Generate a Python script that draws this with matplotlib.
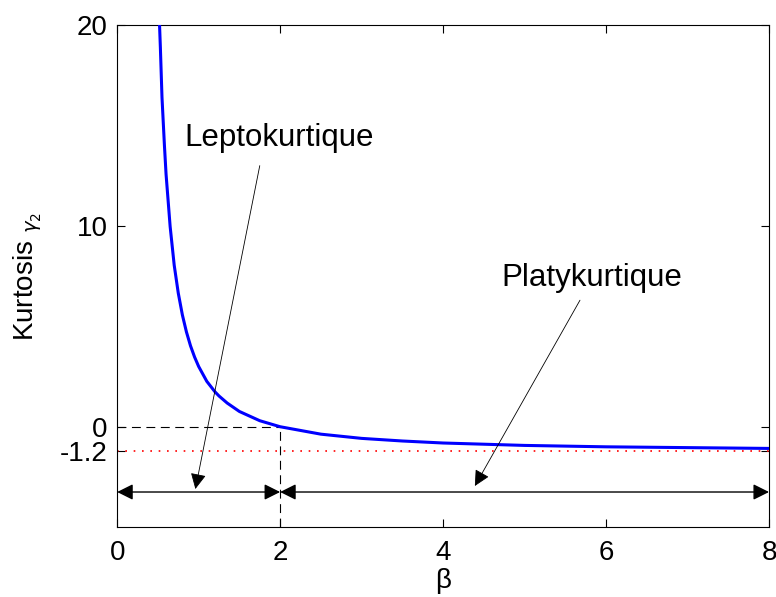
import matplotlib
matplotlib.use("Agg")
import matplotlib.pyplot as plt

# kurtosis
beta = [0.52, 0.53, 0.55, 0.58, 0.6, 0.65, 0.7, 0.75, 0.8, 0.85, 0.9, 0.95, 1.0, 1.1,
        1.2, 1.25, 1.35, 1.5, 1.75, 2.0, 2.5, 3.0, 3.5, 4.0, 5.0, 6.0, 7.0, 8.0]
kurt = [20.0, 18.9, 16.4, 14.0, 12.57, 9.97, 8.04, 6.65, 5.57, 4.72, 4.03, 3.47, 3.0, 2.26,
        1.74, 1.53, 1.18, 0.76, 0.30, 0.0, -0.37, -0.58, -0.71, -0.81, -0.93, -1.0, -1.04, -1.08]

yticks = [-1.2, 0, 10, 20]
ytick_labels = ["-1.2", "0", "10", "20"]
xticks = [0, 2, 4, 6, 8]

plt.rcParams['font.family'] = ['Liberation Sans', 'DejaVu Sans']

fig = plt.figure(figsize=(7.76, 5.97), dpi=100)
ax = fig.add_axes([0.151, 0.117, 0.840, 0.841])

ax.plot(beta, kurt, color='blue', lw=2.2, zorder=3)
ax.axhline(-1.2, color='red', ls=(0, (1, 4)), lw=1.2)
ax.plot([0, 2], [0, 0], color='k', ls=(0, (8, 5)), lw=0.8)
ax.plot([2, 2], [-5, 0], color='k', ls=(0, (8, 5)), lw=0.8)

arr = dict(arrowstyle='<|-|>', mutation_scale=24, fc='k', ec='k', lw=1,
           shrinkA=0, shrinkB=0)
ax.annotate('', xy=(0, -3.25), xytext=(2, -3.25), arrowprops=arr)
ax.annotate('', xy=(2, -3.25), xytext=(8, -3.25), arrowprops=arr)

one = dict(arrowstyle='-|>', mutation_scale=24, fc='k', ec='k', lw=0.6,
           shrinkA=0, shrinkB=0)
ax.annotate('', xy=(0.96, -3.1), xytext=(1.75, 13.0), arrowprops=one)
ax.annotate('', xy=(4.39, -2.95), xytext=(5.68, 6.3), arrowprops=one)
ax.text(0.83, 14.4, 'Leptokurtique', fontsize=22.5, va='center', ha='left')
ax.text(4.72, 7.4, 'Platykurtique', fontsize=22.5, va='center', ha='left')

ax.set_xlim(0, 8)
ax.set_ylim(-5, 20)
ax.set_xticks(xticks)
ax.set_yticks(yticks)
ax.set_yticklabels(ytick_labels)
ax.tick_params(direction='in', labelsize=20, right=True, top=True, length=6)
ax.tick_params(axis='x', pad=9)
ax.tick_params(axis='y', pad=7)
ax.set_xlabel('β', fontsize=20, labelpad=2)
ax.set_ylabel(r'Kurtosis $_{\gamma_2}$', fontsize=20, labelpad=11)

fig.savefig('out.png', dpi=100)
